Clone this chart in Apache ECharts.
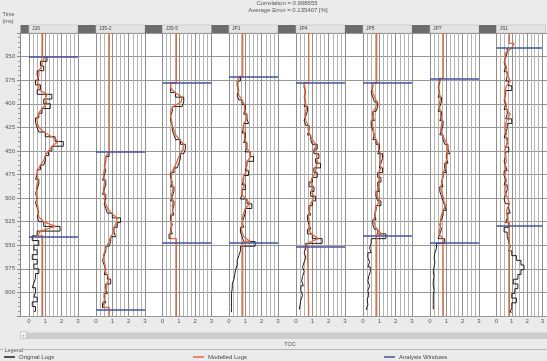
<!DOCTYPE html>
<html><head><meta charset="utf-8">
<script src="https://cdn.jsdelivr.net/npm/echarts@6/dist/echarts.min.js"></script>
<style>html,body{margin:0;padding:0;background:#ebebeb;}#c{width:547px;height:361px;}</style>
</head><body><div id="c"></div>
<script>
// ---------- data ----------
const wells = ['J26', 'J35-2', 'J35-5', 'JP1', 'JP4', 'JP5', 'JP7', 'JS1'];
const depthMin = 325, depthMax = 625, depthInterval = 25;
const tocMin = 0, tocMax = 3;
const windowTop = [350, 451, 378, 371, 378, 378, 373, 341];
const windowBottom = [541, 618, 547, 547, 552, 540, 547, 529];
const modelBase = [0.83, 0.81, 0.85, 0.84, 0.78, 0.84, 0.81, 0.84];
const sampleStep = 5;
const origStart = [350, 451, 378, 371, 378, 378, 373, 341];
const modelStart = [350, 451, 378, 371, 378, 378, 373, 336];

const origJ26 = [1.1,0.7,0.9,0.5,0.6,0.4,0.7,0.5,1.4,0.9,1.3,0.8,0.6,0.4,0.5,0.6,1.0,1.6,2.1,1.4,1.2,1.0,0.9,0.7,0.5,0.4,0.6,0.5,0.4,0.5,0.4,0.5,0.6,0.5,0.6,0.9,1.9,0.5,0.2,0.6,0.3,0.5,0.2,0.5,0.3,0.6,0.4,0.3,0.2,0.4,0.3,0.5,0.2,0.4,0.3];
const origJ352 = [0.8,0.6,0.5,0.6,0.5,0.4,0.6,0.5,0.4,0.6,0.5,0.6,0.7,1.0,1.5,1.3,1.1,1.2,0.9,0.8,0.6,0.5,0.4,0.5,0.6,0.5,0.7,0.9,0.6,0.7,0.5,0.6,0.4,0.5];
const origJ355 = [0.5,0.5,0.8,1.3,1.2,0.6,0.5,0.5,0.6,0.6,0.7,0.8,1.1,1.4,1.3,1.1,1.0,0.9,0.7,0.5,0.6,0.5,0.7,0.6,0.5,0.7,0.6,0.7,0.5,0.6,0.5,0.6,0.4,0.5];
const origJP1 = [0.7,0.5,0.6,0.5,0.6,0.8,1.0,0.9,1.1,1.2,0.9,0.8,1.0,0.9,1.1,1.0,1.3,1.5,1.1,1.0,1.2,0.9,0.8,1.0,0.8,0.7,1.1,1.4,1.0,0.9,0.8,0.9,0.7,0.8,0.9,1.6,0.7,0.6,0.5,0.5,0.4,0.35,0.3,0.2,0.2,0.15,0.15,0.15,0.15,0.15,0.15];
const origJP4 = [0.5,0.6,0.5,0.6,0.5,0.7,0.6,0.5,0.6,0.8,0.7,0.9,1.0,1.3,1.1,1.4,1.2,1.5,1.1,1.3,1.0,0.8,1.1,0.9,1.2,1.0,0.8,0.9,0.7,0.8,0.9,0.7,1.0,1.6,0.6,0.5,0.6,0.5,0.4,0.5,0.4,0.35,0.45,0.3,0.4,0.3,0.25,0.2,0.2];
const origJP5 = [0.6,0.5,0.6,0.7,0.9,0.8,0.6,0.7,0.5,0.6,0.7,0.6,0.8,1.0,0.9,1.2,1.1,1.0,1.2,0.9,1.1,0.9,1.0,0.8,0.9,1.1,0.8,0.7,0.8,0.6,0.7,0.9,1.4,0.5,0.4,0.5,0.3,0.4,0.3,0.45,0.35,0.3,0.4,0.3,0.35,0.25,0.3,0.2,0.25];
const origJP7 = [0.6,0.5,0.6,0.5,0.7,0.6,0.5,0.7,0.6,0.8,0.7,0.6,0.8,0.9,1.1,1.2,1.0,1.1,0.9,1.0,0.8,0.7,0.8,0.6,0.7,0.8,0.9,1.0,0.8,0.7,0.6,0.7,0.6,0.5,0.9,0.4,0.3,0.25,0.3,0.25,0.2,0.25,0.2,0.2,0.25,0.2,0.2,0.2,0.2,0.2];
const origJS1 = [0.7,0.6,0.5,0.6,0.5,0.7,0.6,0.8,1.0,0.6,0.5,0.6,0.5,0.7,0.6,1.0,0.7,0.6,0.5,0.7,0.6,0.8,0.6,0.5,0.6,0.7,0.5,0.6,0.5,0.7,0.6,0.5,0.6,0.8,0.9,0.7,0.6,0.8,0.5,0.7,0.8,0.9,0.8,1.0,1.3,1.6,1.8,1.6,1.4,1.1,1.4,1.2,1.0,1.3,1.0,0.9,1.0];

const modelJ26 = [1.0,0.8,0.8,0.6,0.6,0.5,0.6,0.6,1.1,1.0,1.1,0.8,0.6,0.5,0.5,0.6,0.9,1.4,1.8,1.4,1.2,1.0,0.9,0.7,0.55,0.5,0.55,0.5,0.45,0.5,0.45,0.5,0.55,0.55,0.6,0.9,1.6,0.7,0.5];
const modelJ352 = [0.75,0.6,0.55,0.55,0.5,0.45,0.55,0.5,0.45,0.55,0.5,0.6,0.7,0.95,1.3,1.25,1.1,1.1,0.9,0.8,0.65,0.55,0.45,0.5,0.55,0.55,0.65,0.8,0.65,0.65,0.55,0.55,0.45,0.5];
const modelJ355 = [0.5,0.5,0.75,1.2,1.15,0.65,0.5,0.5,0.55,0.6,0.7,0.8,1.05,1.3,1.25,1.1,0.95,0.85,0.7,0.55,0.55,0.55,0.65,0.6,0.55,0.65,0.6,0.65,0.55,0.55,0.55,0.55,0.45,0.5];
const modelJP1 = [0.65,0.55,0.55,0.55,0.6,0.8,0.95,0.95,1.05,1.1,0.9,0.85,0.95,0.95,1.05,1.05,1.25,1.35,1.1,1.05,1.1,0.9,0.85,0.95,0.8,0.75,1.05,1.25,1.0,0.9,0.8,0.85,0.75,0.8,0.9,1.3];
const modelJP4 = [0.5,0.55,0.55,0.55,0.55,0.65,0.6,0.55,0.6,0.75,0.75,0.85,1.0,1.2,1.15,1.3,1.25,1.35,1.15,1.2,1.0,0.9,1.0,0.95,1.1,1.0,0.85,0.85,0.75,0.8,0.85,0.75,0.95,1.35,0.7];
const modelJP5 = [0.6,0.55,0.6,0.7,0.85,0.8,0.65,0.65,0.55,0.6,0.65,0.65,0.8,0.95,0.95,1.1,1.05,1.05,1.1,0.95,1.0,0.95,0.95,0.85,0.9,1.0,0.85,0.75,0.75,0.65,0.7,0.85,1.15];
const modelJP7 = [0.55,0.55,0.55,0.55,0.65,0.6,0.55,0.65,0.65,0.75,0.7,0.65,0.75,0.9,1.05,1.1,1.05,1.05,0.95,0.95,0.8,0.75,0.75,0.65,0.7,0.8,0.85,0.95,0.8,0.7,0.65,0.65,0.6,0.55,0.8];
const modelJS1 = [1.15,1.0,0.6,0.55,0.55,0.65,0.65,0.75,0.9,0.65,0.55,0.55,0.55,0.65,0.65,0.9,0.7,0.6,0.55,0.65,0.6,0.75,0.6,0.55,0.6,0.65,0.55,0.6,0.55,0.65,0.6,0.55,0.6,0.75,0.85,0.7,0.65,0.75,0.7];

const originalLogs = [origJ26, origJ352, origJ355, origJP1, origJP4, origJP5, origJP7, origJS1];
const modelledLogs = [modelJ26, modelJ352, modelJ355, modelJP1, modelJP4, modelJP5, modelJP7, modelJS1];
const correlationText = 'Correlation = 0.908655';
const errorText = 'Average Error = 0.135407 [%]';
const xTitle = 'TOC';

// ---------- layout ----------
const FONT = 'Liberation Sans, Arial, sans-serif';
const gridLeft = [29, 96, 162.5, 229, 296, 363, 430, 496.5];
const gridW = 49, plotTop = 33, plotBottom = 316, W = 547, H = 361;
const cBlack = '#1e1e1e', cOrange = '#e4673b', cBlue = '#44549a';

const grids = [{left: 20, right: 0, top: plotTop, bottom: H - plotBottom, show: true, backgroundColor: '#fff', borderWidth: 0}];
const xAxes = [{gridIndex: 0, type: 'value', min: 0, max: 1, show: false}];
const yAxes = [{
  gridIndex: 0, type: 'value', min: depthMin, max: depthMax, interval: depthInterval, inverse: true,
  axisLine: {show: true, lineStyle: {color: '#8a8a8a'}},
  axisTick: {show: true, length: 3, lineStyle: {color: '#8a8a8a'}},
  minorTick: {show: true, splitNumber: 5, length: 2, lineStyle: {color: '#9a9a9a'}},
  axisLabel: {fontSize: 6, color: '#555', margin: 5, fontFamily: FONT, showMinLabel: false, showMaxLabel: false},
  splitLine: {show: true, lineStyle: {color: '#979797', width: 1}}
}];
const series = [];
const graphics = [];

wells.forEach((w, i) => {
  const g = i + 1;
  grids.push({left: gridLeft[i], width: gridW, top: plotTop, bottom: H - plotBottom, show: false});
  xAxes.push({
    gridIndex: g, type: 'value', min: tocMin, max: tocMax, interval: 1,
    axisLine: {show: true, lineStyle: {color: '#999'}},
    axisTick: {show: false},
    minorTick: {show: false, splitNumber: 4},
    axisLabel: {fontSize: 6, color: '#555', margin: 2, fontFamily: FONT},
    splitLine: {show: true, lineStyle: {color: '#8f8f8f', width: 1}},
    minorSplitLine: {show: true, lineStyle: {color: '#b4b4b4', width: 1}}
  });
  yAxes.push({gridIndex: g, type: 'value', min: depthMin, max: depthMax, inverse: true, show: false});

  const orig = originalLogs[i].map((v, k) => [v, origStart[i] + k * sampleStep]);
  series.push({
    name: 'Original Logs', type: 'line', xAxisIndex: g, yAxisIndex: g, data: orig,
    step: 'start', symbol: 'none', lineStyle: {color: cBlack, width: 1}, itemStyle: {color: cBlack}, z: 2, animation: false
  });
  const m = modelledLogs[i];
  const mEnd = modelStart[i] + (m.length - 1) * sampleStep;
  const model = [[modelBase[i], depthMin], [modelBase[i], modelStart[i]]]
    .concat(m.map((v, k) => [v, modelStart[i] + k * sampleStep]))
    .concat([[modelBase[i], mEnd], [modelBase[i], depthMax]]);
  series.push({
    name: 'Modelled Logs', type: 'line', xAxisIndex: g, yAxisIndex: g, data: model,
    symbol: 'none', lineStyle: {color: cOrange, width: 1.3}, itemStyle: {color: cOrange}, z: 3, animation: false
  });
  series.push({
    name: 'Analysis Windows', type: 'line', xAxisIndex: g, yAxisIndex: g, data: [],
    symbol: 'none', lineStyle: {color: cBlue, width: 1.6}, itemStyle: {color: cBlue}, z: 4, animation: false,
    markLine: {silent: true, symbol: 'none', animation: false, label: {show: false},
      lineStyle: {color: cBlue, width: 1.6, type: 'solid'},
      data: [{yAxis: windowTop[i]}, {yAxis: windowBottom[i]}]}
  });

  // headers
  const darkLeft = i === 0 ? 20.5 : gridLeft[i - 1] + gridW;
  graphics.push({type: 'rect', shape: {x: darkLeft, y: 25, width: gridLeft[i] - darkLeft, height: 8}, style: {fill: '#6c6c6c'}, silent: true});
  graphics.push({type: 'rect', shape: {x: gridLeft[i], y: 25, width: gridW, height: 8}, style: {fill: '#e4e4e4', stroke: '#bdbdbd', lineWidth: 0.6}, silent: true});
  graphics.push({type: 'text', x: gridLeft[i] + 3, y: 29, style: {text: w, fontSize: 5, fill: '#444', fontFamily: FONT, textVerticalAlign: 'middle'}, silent: true});
});

// titles and decorations
graphics.push({type: 'text', x: 287, y: 3.5, style: {text: correlationText, fontSize: 6, fill: '#555', fontFamily: FONT, textAlign: 'center', textVerticalAlign: 'middle'}});
graphics.push({type: 'text', x: 288, y: 10.5, style: {text: errorText, fontSize: 6, fill: '#555', fontFamily: FONT, textAlign: 'center', textVerticalAlign: 'middle'}});
graphics.push({type: 'text', x: 2.5, y: 14.5, style: {text: 'Time', fontSize: 5.5, fill: '#555', fontFamily: FONT, textVerticalAlign: 'middle'}});
graphics.push({type: 'text', x: 2.5, y: 21, style: {text: '(ms)', fontSize: 5.5, fill: '#555', fontFamily: FONT, textVerticalAlign: 'middle'}});
// scrollbar
graphics.push({type: 'rect', shape: {x: 27, y: 332.5, width: W - 27, height: 6.5}, style: {fill: '#cdcdcd'}});
graphics.push({type: 'rect', shape: {x: 20.5, y: 331.5, width: 6, height: 7}, style: {fill: '#f4f4f4', stroke: '#a9a9a9', lineWidth: 0.6}});
graphics.push({type: 'text', x: 23.5, y: 335, style: {text: '‹', fontSize: 6, fill: '#666', fontFamily: FONT, textAlign: 'center', textVerticalAlign: 'middle'}});
graphics.push({type: 'text', x: 290, y: 344, style: {text: xTitle, fontSize: 5.5, fill: '#555', fontFamily: FONT, textAlign: 'center', textVerticalAlign: 'middle'}});
// legend frame
graphics.push({type: 'line', shape: {x1: 0, y1: 349.5, x2: 3, y2: 349.5}, style: {stroke: '#b5b5b5', lineWidth: 1}});
graphics.push({type: 'line', shape: {x1: 23, y1: 349.5, x2: W, y2: 349.5}, style: {stroke: '#b5b5b5', lineWidth: 1}});
graphics.push({type: 'text', x: 4.5, y: 350, style: {text: 'Legend', fontSize: 5.5, fill: '#555', fontFamily: FONT, textVerticalAlign: 'middle'}});

const legendStyle = {top: 354, itemWidth: 11, itemHeight: 1.5, icon: 'rect', padding: 0, itemGap: 0,
  textStyle: {fontSize: 6, color: '#444', fontFamily: FONT, padding: [0, 0, 0, -1]}, selectedMode: false};
const option = {
  animation: false,
  backgroundColor: '#ebebeb',
  grid: grids, xAxis: xAxes, yAxis: yAxes, series: series,
  legend: [
    Object.assign({left: 4, data: ['Original Logs']}, legendStyle),
    Object.assign({left: 193, data: ['Modelled Logs']}, legendStyle),
    Object.assign({left: 384, data: ['Analysis Windows']}, legendStyle)
  ],
  graphic: graphics
};
const chart = echarts.init(document.getElementById('c'), null, {renderer: 'canvas'});
chart.setOption(option);
</script></body></html>
